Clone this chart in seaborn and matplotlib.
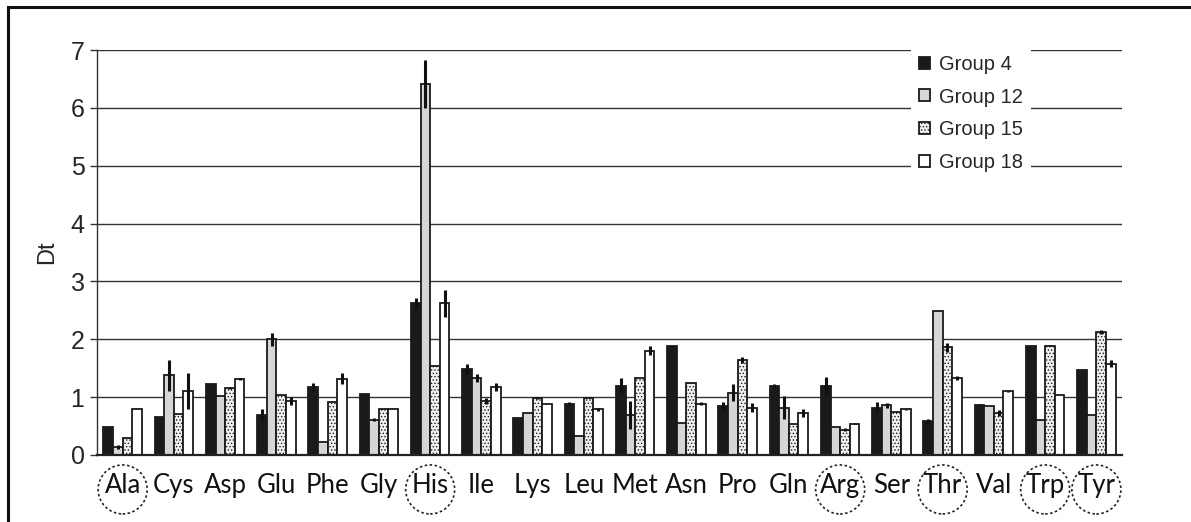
import numpy as np
import pandas as pd
import matplotlib
matplotlib.use('Agg')
import matplotlib.pyplot as plt
import matplotlib.patches as mpatches
import seaborn as sns

# 数据
amino = ['Ala', 'Cys', 'Asp', 'Glu', 'Phe', 'Gly', 'His', 'Ile', 'Lys', 'Leu',
         'Met', 'Asn', 'Pro', 'Gln', 'Arg', 'Ser', 'Thr', 'Val', 'Trp', 'Tyr']
groups = ['Group 4', 'Group 12', 'Group 15', 'Group 18']
g4 = [0.49, 0.66, 1.22, 0.69, 1.18, 1.06, 2.62, 1.49, 0.64, 0.89,
      1.20, 1.88, 0.84, 1.19, 1.19, 0.82, 0.59, 0.87, 1.88, 1.47]
g12 = [0.14, 1.38, 1.02, 2.00, 0.22, 0.61, 6.41, 1.33, 0.73, 0.32,
       0.69, 0.55, 1.08, 0.82, 0.48, 0.86, 2.49, 0.84, 0.61, 0.70]
g15 = [0.30, 0.71, 1.16, 1.03, 0.91, 0.79, 1.54, 0.94, 0.99, 0.98,
       1.33, 1.24, 1.64, 0.53, 0.44, 0.75, 1.86, 0.72, 1.89, 2.13]
g18 = [0.80, 1.10, 1.31, 0.93, 1.32, 0.79, 2.62, 1.17, 0.89, 0.79,
       1.80, 0.89, 0.82, 0.73, 0.54, 0.79, 1.33, 1.10, 1.03, 1.58]
e4 = [0, 0, 0, 0.10, 0.07, 0, 0.09, 0.09, 0, 0.02,
      0.13, 0.01, 0.07, 0.03, 0.15, 0.10, 0.03, 0.01, 0, 0]
e12 = [0.04, 0.27, 0, 0.11, 0, 0.03, 0.42, 0.07, 0, 0,
       0.24, 0, 0.15, 0.20, 0, 0.04, 0, 0, 0, 0]
e15 = [0, 0, 0.02, 0, 0, 0, 0, 0.05, 0.02, 0,
       0, 0, 0.05, 0, 0.02, 0, 0.08, 0.05, 0.01, 0.03]
e18 = [0, 0.31, 0.02, 0.07, 0.09, 0, 0.23, 0.07, 0, 0.03,
       0.08, 0.03, 0.08, 0.07, 0.01, 0.01, 0.04, 0.01, 0, 0.06]
circled = ['Ala', 'His', 'Arg', 'Thr', 'Trp', 'Tyr']

df = pd.DataFrame({
    'amino': amino * 4,
    'group': np.repeat(groups, len(amino)),
    'Dt': g4 + g12 + g15 + g18,
})
errs = [e4, e12, e15, e18]

sns.set_style('white')
plt.rcParams['font.family'] = ['Liberation Sans', 'DejaVu Sans']
plt.rcParams['hatch.linewidth'] = 0.6

# 样式
faces = ['#1a1a1a', '#d6d6d6', '#f0f0f0', '#ffffff']
hatches = [None, None, '.....', None]
edge = '#1a1a1a'

fig = plt.figure(figsize=(11.91, 5.22), dpi=100)
ax = fig.add_axes([97 / 1191, 1 - 455 / 522, 1025 / 1191, 405 / 522])

sns.barplot(data=df, x='amino', y='Dt', hue='group', order=amino, hue_order=groups,
            errorbar=None, width=0.75, gap=0, palette=faces, ax=ax, legend=False, zorder=2)

bar_conts = list(ax.containers)
for i, cont in enumerate(bar_conts):
    for p, e in zip(cont.patches, errs[i]):
        p.set_facecolor(faces[i])
        p.set_edgecolor(edge)
        p.set_linewidth(1.3)
        if hatches[i]:
            p.set_hatch(hatches[i])
        if e > 0:
            ax.errorbar(p.get_x() + p.get_width() / 2, p.get_height(), yerr=e,
                        fmt='none', ecolor='#111111', elinewidth=2.2, capsize=0, zorder=3)

ax.set_ylim(0, 7)
ax.set_xlim(-0.5, len(amino) - 0.5)
ax.set_yticks(range(0, 8))
ax.yaxis.grid(True, color='#333333', linewidth=1.0)
ax.set_axisbelow(True)
ax.set_xlabel('')
ax.set_ylabel('Dt', fontsize=17, labelpad=9)

ax.set_xticks(np.arange(-0.5, len(amino)), minor=True)
ax.tick_params(axis='x', which='minor', length=5, width=1.3, color='#222222', direction='out')
ax.tick_params(axis='x', which='major', length=0, pad=13)
ax.set_xticks(range(len(amino)))
ax.set_xticklabels(amino, fontsize=18.5, family=['Lato', 'DejaVu Sans'], color='#111111')
ax.tick_params(axis='y', left=True, length=5, width=1, color='#333333', labelsize=18, pad=4)

for s in ['top', 'right']:
    ax.spines[s].set_visible(False)
ax.spines['left'].set_color('#333333')
ax.spines['left'].set_linewidth(1.0)
ax.spines['bottom'].set_color('#222222')
ax.spines['bottom'].set_linewidth(1.6)

# 圆圈标签
for name in circled:
    xi = amino.index(name)
    circ = mpatches.Ellipse((xi, -0.085), 49 / 51.25, 49 / 405, transform=ax.get_xaxis_transform(),
                            fill=False, edgecolor='#222222', linewidth=1.2,
                            linestyle=(0, (1.5, 1.5)), clip_on=False)
    ax.add_patch(circ)

# 图例
handles = [mpatches.Patch(facecolor=faces[i], edgecolor=edge, linewidth=1.3,
                          hatch=hatches[i], label=groups[i]) for i in range(4)]
leg = ax.legend(handles=handles, loc='upper left', bbox_to_anchor=(0.794, 1.008),
                fontsize=14.5, frameon=True, fancybox=False, framealpha=1,
                handlelength=0.55, handleheight=0.55, handletextpad=0.45,
                labelspacing=0.68, borderpad=0.4, borderaxespad=0)
leg.get_frame().set_facecolor('white')
leg.get_frame().set_edgecolor('none')

# 外框
fig.add_artist(mpatches.Rectangle((8 / 1191, -0.1), 1.1, 0.1 + 1 - 7 / 522,
                                  transform=fig.transFigure, fill=False,
                                  edgecolor='#111111', linewidth=2.2))

plt.savefig('out.png', dpi=100)
plt.close()
